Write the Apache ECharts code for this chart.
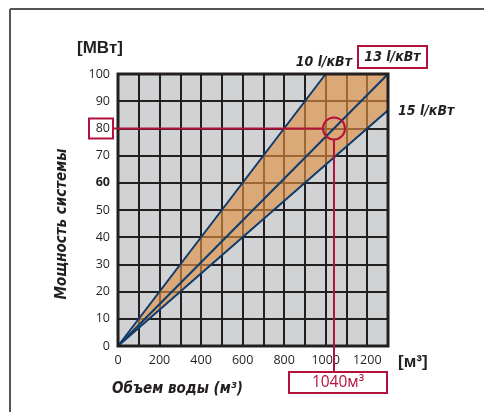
<!DOCTYPE html>
<html><head><meta charset="utf-8">
<script src="https://cdn.jsdelivr.net/npm/echarts@6/dist/echarts.min.js"></script>
<style>html,body{margin:0;padding:0;background:#fff}#c{width:484px;height:412px}</style>
</head><body><div id="c"></div>
<script>
// Data
const xTicks = [0, 200, 400, 600, 800, 1000, 1200];
const yTicks = [0, 10, 20, 30, 40, 50, 60, 70, 80, 90, 100];
const line10 = [[0, 0], [1000, 100]];
const line13 = [[0, 0], [1300, 100]];
const line15 = [[0, 0], [1300, 86.7]];
const band = [[0, 0], [1000, 100], [1300, 100], [1300, 86.7]];
const marker = [1040, 80];
const seriesNames = ['10 l/кВт', '13 l/кВт', '15 l/кВт'];

const RED = '#b3123c', BLUE = '#0c3b6c', DARK = '#231f20';
const chart = echarts.init(document.getElementById('c'), null, {renderer: 'canvas'});
const boldItalic = {fontFamily: '"DejaVu Sans Condensed", "DejaVu Sans"', fontWeight: 'bold', fontStyle: 'oblique', fill: DARK};

const option = {
  animation: false,
  grid: {left: 118, right: 96, top: 74, bottom: 66, show: true, backgroundColor: '#d1d2d4', borderWidth: 0},
  xAxis: {
    type: 'value', min: 0, max: 1300, interval: 100,
    axisLine: {show: false}, axisTick: {show: false},
    splitLine: {show: true, lineStyle: {color: DARK, width: 2}},
    axisLabel: {
      margin: 8, color: DARK, fontFamily: 'Open Sans', fontSize: 12.5,
      formatter: v => xTicks.indexOf(v) >= 0 ? String(v) : ''
    }
  },
  yAxis: {
    type: 'value', min: 0, max: 100, interval: 10,
    axisLine: {show: false}, axisTick: {show: false},
    splitLine: {show: true, lineStyle: {color: DARK, width: 2}},
    axisLabel: {
      margin: 8, color: DARK, fontFamily: 'Open Sans', fontSize: 12.5,
      formatter: v => yTicks.indexOf(v) >= 0 ? (v === 60 ? '{b|60}' : String(v)) : '',
      rich: {b: {fontFamily: 'Open Sans', fontWeight: 'bold', fontSize: 12.5, color: DARK}}
    }
  },
  series: [
    {
      type: 'custom', z: 3, silent: true,
      data: [0],
      renderItem: (params, api) => ({
        type: 'polygon',
        shape: {points: band.map(p => api.coord(p))},
        style: {fill: 'rgba(226,144,66,0.64)', stroke: 'none'}
      })
    },
    {type: 'line', name: seriesNames[0], data: line10, showSymbol: false, z: 4, lineStyle: {color: BLUE, width: 2}},
    {type: 'line', name: seriesNames[1], data: line13, showSymbol: false, z: 4, lineStyle: {color: BLUE, width: 2}},
    {type: 'line', name: seriesNames[2], data: line15, showSymbol: false, z: 4, lineStyle: {color: BLUE, width: 2}},
    {
      type: 'custom', z: 5, silent: true, clip: false,
      data: [0],
      renderItem: (params, api) => {
        const cs = params.coordSys;
        return {type: 'rect', shape: {x: cs.x, y: cs.y, width: cs.width, height: cs.height},
          style: {fill: 'none', stroke: DARK, lineWidth: 3}};
      }
    },
    {
      type: 'custom', z: 6, silent: true, clip: false,
      data: [marker],
      renderItem: (params, api) => {
        const cs = params.coordSys;
        const p = api.coord(marker);
        const r = 11;
        const bottomY = cs.y + cs.height + 26;
        return {type: 'group', children: [
          {type: 'line', shape: {x1: cs.x - 5, y1: p[1], x2: p[0] - r, y2: p[1]}, style: {stroke: RED, lineWidth: 2}},
          {type: 'line', shape: {x1: p[0], y1: p[1] + r, x2: p[0], y2: bottomY}, style: {stroke: RED, lineWidth: 2}},
          {type: 'circle', shape: {cx: p[0], cy: p[1], r: r}, style: {fill: 'none', stroke: RED, lineWidth: 2}},
          {type: 'rect', shape: {x: cs.x - 29, y: p[1] - 10, width: 24, height: 20}, style: {fill: 'none', stroke: RED, lineWidth: 2}},
          {type: 'rect', shape: {x: p[0] - 45, y: bottomY, width: 98, height: 21}, style: {fill: '#fff', stroke: RED, lineWidth: 2}},
          {type: 'text', x: p[0] + 4, y: bottomY + 11, style: {text: marker[0] + 'м³', fill: RED, fontFamily: 'Open Sans', fontSize: 15.5, align: 'center', verticalAlign: 'middle'}}
        ]};
      }
    }
  ],
  graphic: [
    {type: 'line', shape: {x1: 10, y1: 9, x2: 484, y2: 9}, style: {stroke: '#555', lineWidth: 2}},
    {type: 'line', shape: {x1: 10, y1: 9, x2: 10, y2: 412}, style: {stroke: '#555', lineWidth: 2}},
    {type: 'text', x: 77, y: 48, style: {text: '[МВт]', fontFamily: 'Liberation Sans', fontWeight: 'bold', fontSize: 17, fill: DARK, verticalAlign: 'middle'}},
    {type: 'text', x: 398, y: 362, style: {text: '[м³]', fontFamily: 'Liberation Sans', fontWeight: 'bold', fontSize: 17, fill: DARK, verticalAlign: 'middle'}},
    {type: 'text', x: 352, y: 62, style: Object.assign({}, boldItalic, {text: seriesNames[0], fontSize: 14, align: 'right', verticalAlign: 'middle'})},
    {type: 'rect', shape: {x: 358, y: 46, width: 69, height: 22}, style: {fill: 'none', stroke: RED, lineWidth: 2}},
    {type: 'text', x: 392.5, y: 57.5, style: Object.assign({}, boldItalic, {text: seriesNames[1], fontSize: 14, align: 'center', verticalAlign: 'middle'})},
    {type: 'text', x: 398, y: 111, style: Object.assign({}, boldItalic, {text: seriesNames[2], fontSize: 14, verticalAlign: 'middle'})},
    {type: 'text', x: 112, y: 389, style: Object.assign({}, boldItalic, {text: 'Объем воды (м³)', fontSize: 15, verticalAlign: 'middle'})},
    {type: 'text', x: 62, y: 224, rotation: Math.PI / 2, style: Object.assign({}, boldItalic, {text: 'Мощность системы', fontSize: 15, align: 'center', verticalAlign: 'middle'})}
  ]
};
chart.setOption(option);
</script>
</body></html>
